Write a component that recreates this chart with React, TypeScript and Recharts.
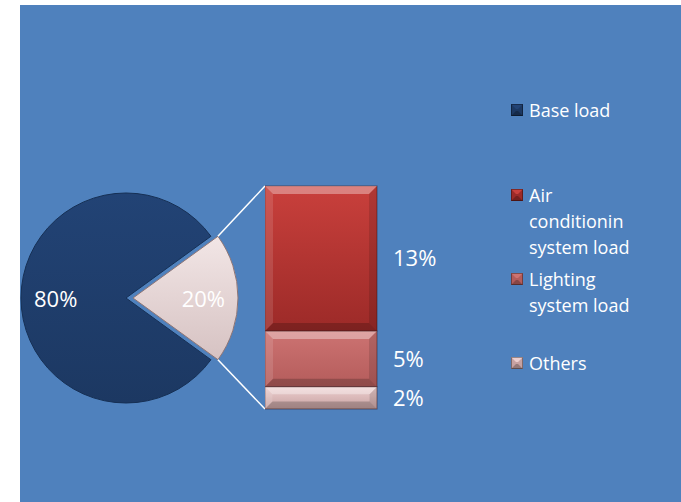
import React from 'react';
import { PieChart, Pie, Cell, BarChart, Bar, XAxis, YAxis, LabelList } from 'recharts';

// pie: base load vs. the rest (the rest is split in the bar)
const pieNames = ['Other loads', 'Base load'];
const pieValues = [20, 80];

// bar of pie: split of the 20%
const barNames = ['Air conditionin system load', 'Lighting system load', 'Others'];
const barValues = [13, 5, 2];

// legend entries, lines as drawn in the picture
const legendNames = ['Base load', 'Air conditionin system load', 'Lighting system load', 'Others'];
const legendLines = [['Base load'], ['Air', 'conditionin', 'system load'], ['Lighting', 'system load'], ['Others']];

const BG = '#4F81BD';
const FONT = '"Open Sans", "Noto Sans", sans-serif';
const COLORS: Record<string, [string, string]> = {
  'Base load': ['#224375', '#1C3862'],
  'Other loads': ['#F2E6E6', '#D6C2C2'],
  'Air conditionin system load': ['#C9403C', '#9C2A28'],
  'Lighting system load': ['#CD7372', '#B45C5B'],
  Others: ['#EDCFCF', '#C7A2A2'],
};

// layout
const PIE_CX = 126;
const PIE_CY = 298;
const PIE_R = 105;
const EXPLODE = 7;
const BAR_LEFT = 265;
const BAR_TOP = 186;
const BAR_W = 112;
const BAR_H = 223;
const PAD = 24;
const LEGEND_X = 511;
const LEGEND_ROW_Y = [97, 182, 266, 350];

const pieData = pieNames.map((name, i) => ({ name, value: pieValues[i] }));
const barRow: Record<string, number | string> = { name: 'split' };
barNames.forEach((n, i) => (barRow[n] = barValues[i]));
const barData = [barRow];

const pieTotal = pieValues.reduce((a, b) => a + b, 0);
const halfAngle = (pieValues[0] / pieTotal) * 180;
const RAD = Math.PI / 180;

const gradId = (name: string) => 'g' + name.replace(/[^a-z]/gi, '');

function Gradients() {
  return (
    <defs>
      {Object.keys(COLORS).map((k) => (
        <linearGradient key={k} id={gradId(k)} x1="0" y1="0" x2="0" y2="1">
          <stop offset="0%" stopColor={COLORS[k][0]} />
          <stop offset="100%" stopColor={COLORS[k][1]} />
        </linearGradient>
      ))}
    </defs>
  );
}

function BevelRect(props: any) {
  const { x, y, width: w, height: h, fill } = props;
  if (!h || h <= 0) return null;
  const b = Math.min(8, h / 3, w / 3);
  return (
    <g>
      <rect x={x} y={y} width={w} height={h} fill={fill} stroke="rgba(60,20,20,0.5)" strokeWidth={1} />
      <polygon points={`${x},${y} ${x + w},${y} ${x + w - b},${y + b} ${x + b},${y + b}`} fill="rgba(255,255,255,0.35)" />
      <polygon points={`${x},${y + h} ${x + w},${y + h} ${x + w - b},${y + h - b} ${x + b},${y + h - b}`} fill="rgba(0,0,0,0.2)" />
      <polygon points={`${x},${y} ${x + b},${y + b} ${x + b},${y + h - b} ${x},${y + h}`} fill="rgba(255,255,255,0.12)" />
      <polygon points={`${x + w},${y} ${x + w - b},${y + b} ${x + w - b},${y + h - b} ${x + w},${y + h}`} fill="rgba(0,0,0,0.12)" />
    </g>
  );
}

const pieLabel = (only: string) => (p: any) => {
  if (p.name !== only) return null;
  const r = p.outerRadius * 0.67;
  const x = p.cx + r * Math.cos(-p.midAngle * RAD);
  const y = p.cy + r * Math.sin(-p.midAngle * RAD);
  return (
    <text x={x} y={y} fill="#fff" fontSize={22} fontFamily={FONT} textAnchor="middle" dominantBaseline="central">
      {p.value}%
    </text>
  );
};

function LegendMarker({ name }: { name: string }) {
  const [c1, c2] = COLORS[name];
  const s = 12;
  const b = 5;
  return (
    <svg width={s} height={s} style={{ display: 'block' }}>
      <rect x={0} y={0} width={s} height={s} fill={c2} />
      <polygon points={`0,0 ${s},0 ${s - b},${b} ${b},${b}`} fill={c1} />
      <polygon points={`0,${s} ${s},${s} ${s - b},${s - b} ${b},${s - b}`} fill="rgba(0,0,0,0.25)" />
      <rect x={0.5} y={0.5} width={s - 1} height={s - 1} fill="none" stroke="rgba(0,0,0,0.35)" />
    </svg>
  );
}

export default function App() {
  const cornerX = PIE_CX + EXPLODE + PIE_R * Math.cos(halfAngle * RAD);
  const cornerDy = PIE_R * Math.sin(halfAngle * RAD);

  return (
    <div style={{ position: 'absolute', left: 0, top: 0, width: 681, height: 502, background: '#fff', overflow: 'hidden' }}>
      <div style={{ position: 'absolute', left: 20, top: 5, width: 661, height: 497, background: BG }} />

      <div style={{ position: 'absolute', left: 0, top: 0 }}>
        <PieChart width={260} height={502} margin={{ top: 0, right: 0, bottom: 0, left: 0 }}>
          <Gradients />
          <Pie
            data={pieData}
            dataKey="value"
            nameKey="name"
            cx={PIE_CX}
            cy={PIE_CY}
            outerRadius={PIE_R}
            startAngle={-halfAngle}
            endAngle={360 - halfAngle}
            labelLine={false}
            label={pieLabel('Base load')}
            isAnimationActive={false}
          >
            {pieData.map((d) => (
              <Cell
                key={d.name}
                fill={d.name === 'Base load' ? `url(#${gradId(d.name)})` : 'transparent'}
                stroke={d.name === 'Base load' ? '#163055' : 'none'}
                strokeWidth={1}
              />
            ))}
          </Pie>
          <Pie
            data={pieData}
            dataKey="value"
            nameKey="name"
            cx={PIE_CX + EXPLODE}
            cy={PIE_CY}
            outerRadius={PIE_R}
            startAngle={-halfAngle}
            endAngle={360 - halfAngle}
            labelLine={false}
            label={pieLabel('Other loads')}
            isAnimationActive={false}
          >
            {pieData.map((d) => (
              <Cell
                key={d.name}
                fill={d.name === 'Other loads' ? `url(#${gradId(d.name)})` : 'transparent'}
                stroke={d.name === 'Other loads' ? '#8E7575' : 'none'}
                strokeWidth={1}
              />
            ))}
          </Pie>
        </PieChart>
      </div>

      <svg style={{ position: 'absolute', left: 0, top: 0 }} width={681} height={502}>
        <line x1={cornerX} y1={PIE_CY - cornerDy} x2={BAR_LEFT} y2={BAR_TOP} stroke="#fff" strokeWidth={1.5} />
        <line x1={cornerX} y1={PIE_CY + cornerDy} x2={BAR_LEFT} y2={BAR_TOP + BAR_H} stroke="#fff" strokeWidth={1.5} />
      </svg>

      <div style={{ position: 'absolute', left: BAR_LEFT, top: BAR_TOP - PAD }}>
        <BarChart
          width={BAR_W + 100}
          height={BAR_H + PAD * 2}
          data={barData}
          margin={{ top: PAD, right: 100, bottom: PAD, left: 0 }}
          barCategoryGap={0}
        >
          <Gradients />
          <XAxis dataKey="name" hide />
          <YAxis hide domain={[0, barValues.reduce((a, b) => a + b, 0)]} />
          {[...barNames].reverse().map((n) => (
            <Bar
              key={n}
              dataKey={n}
              stackId="s"
              fill={`url(#${gradId(n)})`}
              shape={(p: any) => <BevelRect {...p} />}
              isAnimationActive={false}
            >
              <LabelList
                dataKey={n}
                position="right"
                offset={16}
                fill="#fff"
                fontSize={22}
                fontFamily={FONT}
                formatter={(v: any) => `${v}%`}
              />
            </Bar>
          ))}
        </BarChart>
      </div>

      {legendNames.map((n, i) => (
        <div
          key={n}
          style={{
            position: 'absolute',
            left: LEGEND_X,
            top: LEGEND_ROW_Y[i],
            display: 'flex',
            alignItems: 'flex-start',
            fontFamily: FONT,
            fontSize: 18,
            lineHeight: '26px',
            color: '#fff',
          }}
        >
          <div style={{ marginTop: 7, marginRight: 6 }}>
            <LegendMarker name={n} />
          </div>
          <div>
            {legendLines[i].map((l) => (
              <div key={l}>{l}</div>
            ))}
          </div>
        </div>
      ))}
    </div>
  );
}
